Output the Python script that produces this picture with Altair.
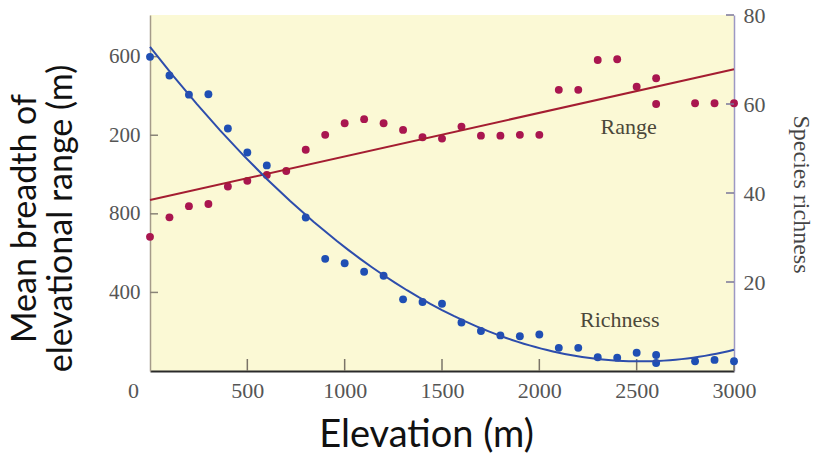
import altair as alt
import pandas as pd

# ---- data ----
elev_rich = [0, 100, 200, 300, 400, 500, 600, 800, 900, 1000, 1100, 1200, 1300, 1400,
             1500, 1600, 1700, 1800, 1900, 2000, 2100, 2200, 2300, 2400, 2500, 2600,
             2600, 2800, 2900, 3000]
richness = [70.6, 66.4, 62.1, 62.2, 54.5, 49.1, 46.2, 34.5, 25.2, 24.2, 22.3, 21.4, 16.1,
            15.5, 15.1, 10.9, 9.0, 8.0, 7.8, 8.2, 5.2, 5.2, 3.1, 3.0, 4.1, 3.6, 1.8, 2.2,
            2.5, 2.2]

elev_range = [0, 100, 200, 300, 400, 500, 600, 700, 800, 900, 1000, 1100, 1200, 1300,
              1400, 1500, 1600, 1700, 1800, 1900, 2000, 2100, 2200, 2300, 2400, 2500,
              2600, 2600, 2800, 2900, 3000]
range_breadth = [683, 782, 839, 850, 939, 968, 998, 1018, 1126, 1202, 1261, 1282, 1261,
                 1227, 1190, 1183, 1244, 1198, 1198, 1202, 1202, 1431, 1431, 1583, 1587,
                 1447, 1490, 1359, 1363, 1363, 1363]

x_ticks = [0, 500, 1000, 1500, 2000, 2500, 3000]
left_ticks = [400, 800, 1200, 1600]
right_ticks = [20, 40, 60, 80]

label_range = {"text": "Range", "elev": 2459, "value": 1242}
label_rich = {"text": "Richness", "elev": 2413, "value": 11.5}

W, H = 584, 356
RED_PT = "#a9164f"
RED_LN = "#a41d31"
BLUE_PT = "#1f4fb4"
BLUE_LN = "#2d4dac"
LBL = "#555555"

df_r = pd.DataFrame({"elev": elev_range, "rng": range_breadth})
df_b = pd.DataFrame({"elev": elev_rich, "rich": richness})
df_xt = pd.DataFrame({"elev": x_ticks[1:]})
df_lt = pd.DataFrame({"v": left_ticks})
df_rt = pd.DataFrame({"v": right_ticks})

xscale = alt.Scale(domain=[0, 3000], nice=False)
lscale = alt.Scale(domain=[0, 1812], nice=False)
rscale = alt.Scale(domain=[0, 80], nice=False)

x_axis = alt.Axis(
    values=x_ticks, format="d", ticks=False, grid=False, labelFlush=False,
    domainColor="#2a2a2a", domainWidth=2,
    labelOffset={"condition": {"test": "datum.value == 0", "value": -17}, "value": 0},
    labelFont="Liberation Serif", labelFontSize=22, labelColor=LBL, labelPadding=9,
    title="Elevation (m)", titleFont="Lato", titleFontSize=38, titleFontWeight="normal",
    titleColor="#111111", titleX=276, titleY=45,
)

left_axis = alt.Axis(
    orient="left", values=left_ticks, ticks=False, grid=False, domainColor="#a59b8a",
    domainWidth=1.5,
    labelExpr="substring(toString(datum.value), length(toString(datum.value)) - 3)",
    labelFont="Liberation Serif", labelFontSize=21, labelColor=LBL, labelPadding=10,
    title=["Mean breadth of", "elevational range (m)"], titleFont="Lato", titleFontSize=34,
    titleFontWeight="normal", titleColor="#111111", titleLineHeight=36,
    titleX=-108, titleY=203,
)

right_axis = alt.Axis(
    orient="right", values=right_ticks, ticks=False, grid=False, domainColor="#9c98c4",
    domainWidth=1.5, labelFont="Liberation Serif", labelFontSize=22, labelColor=LBL,
    labelPadding=9, title="Species richness", titleFont="Liberation Serif",
    titleFontSize=24, titleFontWeight="normal", titleColor="#444444", titleAngle=90,
    titleBaseline="middle", titleX=66, titleY=179,
)


def X(field="elev"):
    return alt.X(f"{field}:Q", scale=xscale, axis=x_axis)


red_pts = alt.Chart(df_r).mark_circle(size=62, opacity=1, color=RED_PT).encode(
    x=X(), y=alt.Y("rng:Q", scale=lscale, axis=left_axis),
)
red_line = alt.Chart(df_r).transform_regression(
    "elev", "rng", method="linear", extent=[0, 3000]
).mark_line(color=RED_LN, strokeWidth=2).encode(
    x=X(), y=alt.Y("rng:Q", scale=lscale, axis=None),
)
left_tk = alt.Chart(df_lt).mark_rule(color="#8a8478", strokeWidth=1.5).encode(
    y=alt.Y("v:Q", scale=lscale, axis=None), x=alt.value(0), x2=alt.value(8)
)
x_tk = alt.Chart(df_xt).mark_rule(color="#7a7468", strokeWidth=1.5).encode(
    x=X(), y=alt.value(H - 12), y2=alt.value(H)
)
range_txt = alt.Chart(pd.DataFrame([label_range])).mark_text(
    font="Liberation Serif", fontSize=22, color="#4b483a"
).encode(
    x=X(), y=alt.Y("value:Q", scale=lscale, axis=None), text="text:N",
)

blue_pts = alt.Chart(df_b).mark_circle(size=62, opacity=1, color=BLUE_PT).encode(
    x=X(), y=alt.Y("rich:Q", scale=rscale, axis=right_axis),
)
blue_line = alt.Chart(df_b).transform_regression(
    "elev", "rich", method="poly", order=2, extent=[0, 3000]
).mark_line(color=BLUE_LN, strokeWidth=2).encode(
    x=X(), y=alt.Y("rich:Q", scale=rscale, axis=None),
)
right_tk = alt.Chart(df_rt).mark_rule(color="#7a7698", strokeWidth=1.5).encode(
    y=alt.Y("v:Q", scale=rscale, axis=None), x=alt.value(W - 8), x2=alt.value(W)
)
rich_txt = alt.Chart(pd.DataFrame([label_rich])).mark_text(
    font="Liberation Serif", fontSize=22, color="#4b483a"
).encode(
    x=X(), y=alt.Y("value:Q", scale=rscale, axis=None), text="text:N",
)

chart = alt.layer(
    red_pts, red_line, left_tk, x_tk, range_txt,
    blue_pts, blue_line, right_tk, rich_txt,
).resolve_scale(y="independent").properties(
    width=W, height=H,
    padding={"left": 150, "top": 15, "right": 81, "bottom": 92},
    autosize=alt.AutoSizeParams(type="none"),
    background="white",
).configure_view(fill="#fbf9d5", strokeWidth=0)

chart.save("out.html", embed_options={"renderer": "svg", "actions": False})
